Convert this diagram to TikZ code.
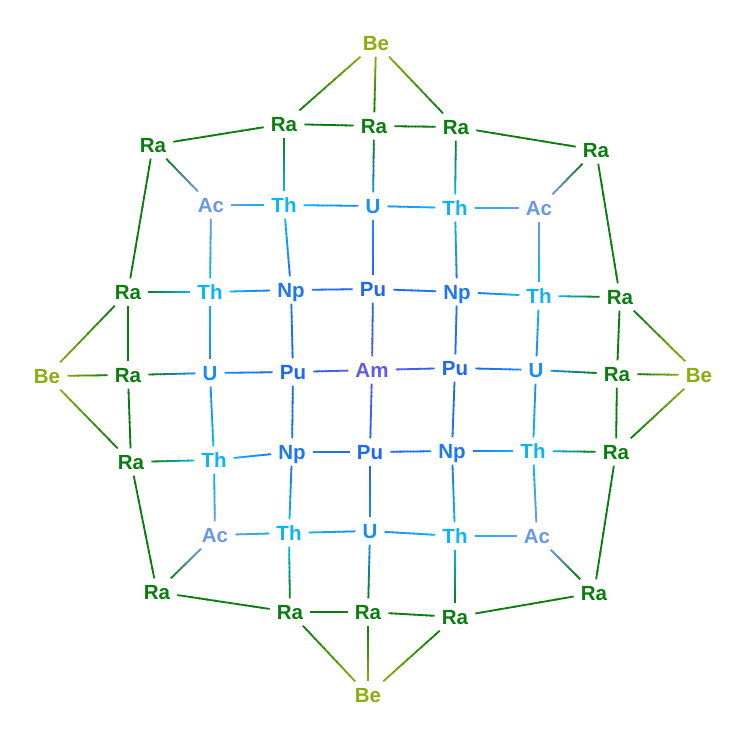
\documentclass[tikz,border=0pt]{standalone}
\usepackage{fontspec}
\setmainfont{Liberation Sans}
\usetikzlibrary{calc}
\definecolor{cBe}{HTML}{8AAD0F}
\definecolor{cRa}{HTML}{0B7D10}
\definecolor{cAc}{HTML}{6A98E8}
\definecolor{cTh}{HTML}{0AB4F5}
\definecolor{cU}{HTML}{1A8CFA}
\definecolor{cNp}{HTML}{1E78F0}
\definecolor{cPu}{HTML}{1F68F0}
\definecolor{cAm}{HTML}{5E5CE8}
\tikzset{
  el/.style={font=\bfseries\fontsize{20.5}{20.5}\selectfont, inner xsep=7pt, inner ysep=6pt, text height=14.6pt, text depth=0.3pt},
  edge/.style={line width=1.8pt}
}
\newcommand\elnode[4]{\node[el, text=c#2] (#1) at (#3,#4) {#2};\expandafter\xdef\csname nc#1\endcsname{c#2}}
\newcommand\edg[2]{%
  \path (#1) -- (#2) coordinate[pos=0] (es) coordinate[pos=1] (ee);
  \edef\ca{\csname nc#1\endcsname}\edef\cb{\csname nc#2\endcsname}%
  \foreach \i in {0,...,11}{%
    \pgfmathtruncatemacro\p{100-100*(\i+0.5)/12}%
    \pgfmathsetmacro\ta{\i/12}%
    \pgfmathsetmacro\tb{min(1,(\i+1.25)/12)}%
    \draw[edge, color=\ca!\p!\cb] ($(es)!\ta!(ee)$) -- ($(es)!\tb!(ee)$);
  }}
\begin{document}
\begin{tikzpicture}[x=1pt,y=-1pt]
\fill[white] (0,0) rectangle (741,741);
\useasboundingbox (0,0) rectangle (741,741);
% Be
\elnode{bT}{Be}{376}{43}
\elnode{bL}{Be}{47}{376}
\elnode{bR}{Be}{699}{375}
\elnode{bB}{Be}{368}{695}
% Ra
\elnode{r1}{Ra}{153}{145}
\elnode{r2}{Ra}{284}{124}
\elnode{r3}{Ra}{374}{126}
\elnode{r4}{Ra}{456}{127}
\elnode{r5}{Ra}{596}{150}
\elnode{r6}{Ra}{620}{297}
\elnode{r7}{Ra}{617}{374}
\elnode{r8}{Ra}{616}{452}
\elnode{r9}{Ra}{594}{593}
\elnode{r10}{Ra}{455}{617}
\elnode{r11}{Ra}{368}{612}
\elnode{r12}{Ra}{290}{612}
\elnode{r13}{Ra}{157}{592}
\elnode{r14}{Ra}{131}{462}
\elnode{r15}{Ra}{128}{375}
\elnode{r16}{Ra}{128}{292}
% Ac
\elnode{a1}{Ac}{211}{205}
\elnode{a2}{Ac}{539}{208}
\elnode{a3}{Ac}{537}{536}
\elnode{a4}{Ac}{215}{535}
% Th
\elnode{t1}{Th}{284}{205}
\elnode{t2}{Th}{455}{208}
\elnode{t3}{Th}{539}{296}
\elnode{t4}{Th}{533}{451}
\elnode{t5}{Th}{455}{536}
\elnode{t6}{Th}{289}{533}
\elnode{t7}{Th}{214}{460}
\elnode{t8}{Th}{210}{292}
% U
\elnode{u1}{U}{373}{206}
\elnode{u2}{U}{536}{370}
\elnode{u3}{U}{370}{531}
\elnode{u4}{U}{210}{373}
% Np
\elnode{n1}{Np}{291}{290}
\elnode{n2}{Np}{457}{292}
\elnode{n3}{Np}{452}{451}
\elnode{n4}{Np}{292}{452}
% Pu
\elnode{p1}{Pu}{373}{289}
\elnode{p2}{Pu}{455}{368}
\elnode{p3}{Pu}{370}{452}
\elnode{p4}{Pu}{293}{372}
% Am
\elnode{am}{Am}{372}{370}
% edges
\foreach \a/\b in {bT/r2,bT/r3,bT/r4,bL/r16,bL/r15,bL/r14,bR/r6,bR/r7,bR/r8,bB/r12,bB/r11,bB/r10,
  r1/r2,r2/r3,r3/r4,r4/r5,r5/r6,r6/r7,r7/r8,r8/r9,r9/r10,r10/r11,r11/r12,r12/r13,r13/r14,r14/r15,r15/r16,r16/r1,
  r1/a1,r2/t1,r3/u1,r4/t2,r5/a2,r6/t3,r7/u2,r8/t4,r9/a3,r10/t5,r11/u3,r12/t6,r13/a4,r14/t7,r15/u4,r16/t8,
  a1/t1,t1/u1,u1/t2,t2/a2,a2/t3,t3/u2,u2/t4,t4/a3,a3/t5,t5/u3,u3/t6,t6/a4,a4/t7,t7/u4,u4/t8,t8/a1,
  t1/n1,u1/p1,t2/n2,t3/n2,u2/p2,t4/n3,t5/n3,u3/p3,t6/n4,t7/n4,u4/p4,t8/n1,
  n1/p1,p1/n2,n2/p2,p2/n3,n3/p3,p3/n4,n4/p4,p4/n1,
  p1/am,p2/am,p3/am,p4/am}{\edg{\a}{\b}}
\end{tikzpicture}
\end{document}
